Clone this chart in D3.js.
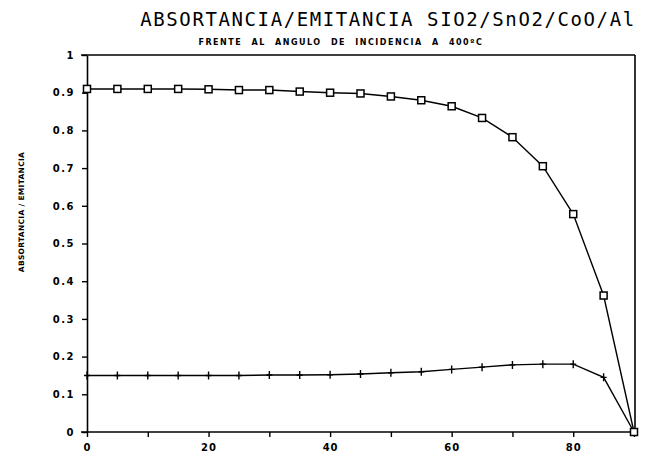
<!DOCTYPE html>
<html>
<head>
<meta charset="utf-8">
<script src="https://cdn.jsdelivr.net/npm/d3@7"></script>
<style>
  body { margin: 0; background: #fff; }
  svg { display: block; }
</style>
</head>
<body>
<div id="chart"></div>
<script>
// angulo de incidencia (grados)
const angles = [0, 5, 10, 15, 20, 25, 30, 35, 40, 45, 50, 55, 60, 65, 70, 75, 80, 85, 90];
// absortancia (cuadrados)
const absortancia = [0.91, 0.91, 0.91, 0.91, 0.909, 0.907, 0.907, 0.903, 0.90, 0.898, 0.89, 0.88, 0.864, 0.833, 0.782, 0.705, 0.578, 0.362, 0.0];
// emitancia (cruces)
const emitancia = [0.15, 0.15, 0.15, 0.15, 0.15, 0.15, 0.151, 0.151, 0.152, 0.154, 0.157, 0.16, 0.166, 0.172, 0.178, 0.18, 0.18, 0.145, 0.0];
const xTicks = [0, 10, 20, 30, 40, 50, 60, 70, 80, 90];
const xLabels = [0, 20, 40, 60, 80];
const yTicks = [0, 0.1, 0.2, 0.3, 0.4, 0.5, 0.6, 0.7, 0.8, 0.9, 1];

const width = 646, height = 454;
const margin = { top: 55, right: 10, bottom: 21, left: 87 };

const svg = d3.select('#chart').append('svg')
    .attr('width', width)
    .attr('height', height);

const x = d3.scaleLinear().domain([0, 90]).range([margin.left, width - margin.right - 2]);
const y = d3.scaleLinear().domain([0, 1]).range([height - margin.bottom - 1, margin.top]);

const tickFont = 'DejaVu Sans, sans-serif';

// marco
svg.append('line')
    .attr('x1', x(0) - 6).attr('x2', x(90) + 1)
    .attr('y1', y(1)).attr('y2', y(1))
    .attr('stroke', '#000').attr('stroke-width', 1.6);
svg.append('line')
    .attr('x1', x(90) + 1).attr('x2', x(90) + 1)
    .attr('y1', y(1)).attr('y2', y(0))
    .attr('stroke', '#000').attr('stroke-width', 1.6);

// eje x
const xAxis = svg.append('g')
    .attr('transform', `translate(0,${y(0)})`)
    .call(d3.axisBottom(x).tickValues(xTicks).tickSize(5).tickSizeOuter(0)
        .tickFormat(d => xLabels.includes(d) ? d : ''));
xAxis.select('.domain').attr('stroke-width', 1.6).attr('d', `M${x(0) - 6},0H${x(90)}`);
xAxis.selectAll('.tick line').attr('stroke-width', 1.4);
xAxis.selectAll('text')
    .attr('dy', '1.05em')
    .style('font-family', tickFont)
    .style('font-weight', 'bold')
    .style('font-size', '10px')
    .style('letter-spacing', '1px');

// eje y
const yAxis = svg.append('g')
    .attr('transform', `translate(${x(0)},0)`)
    .call(d3.axisLeft(y).tickValues(yTicks).tickSize(5).tickSizeOuter(0)
        .tickFormat(d => d === 0 || d === 1 ? d3.format('d')(d) : d3.format('.1f')(d)));
yAxis.select('.domain').attr('stroke-width', 1.6);
yAxis.selectAll('.tick line').attr('stroke-width', 1.4);
yAxis.selectAll('text')
    .attr('x', -12)
    .style('font-family', tickFont)
    .style('font-weight', 'bold')
    .style('font-size', '10px')
    .style('letter-spacing', '1.5px');

// lineas
const line = d3.line().x(d => x(d[0])).y(d => y(d[1]));
const absData = angles.map((a, i) => [a, absortancia[i]]);
const emiData = angles.map((a, i) => [a, emitancia[i]]);

svg.append('path')
    .datum(emiData)
    .attr('fill', 'none')
    .attr('stroke', '#000')
    .attr('stroke-width', 1.4)
    .attr('d', line);

svg.append('path')
    .datum(absData)
    .attr('fill', 'none')
    .attr('stroke', '#000')
    .attr('stroke-width', 1.4)
    .attr('d', line);

// marcadores
svg.append('g')
    .selectAll('path')
    .data(emiData)
    .join('path')
    .attr('d', d => `M${x(d[0]) - 3},${y(d[1])}H${x(d[0]) + 3}M${x(d[0])},${y(d[1]) - 4}V${y(d[1]) + 4}`)
    .attr('stroke', '#000')
    .attr('stroke-width', 1.4);

svg.append('g')
    .selectAll('rect')
    .data(absData)
    .join('rect')
    .attr('x', d => x(d[0]) - 3.5)
    .attr('y', d => y(d[1]) - 3.5)
    .attr('width', 7)
    .attr('height', 7)
    .attr('fill', '#fff')
    .attr('stroke', '#000')
    .attr('stroke-width', 1.5);

// titulos
svg.append('text')
    .attr('x', 388)
    .attr('y', 26)
    .attr('text-anchor', 'middle')
    .style('font-family', 'DejaVu Sans Mono, monospace')
    .style('font-size', '19px')
    .style('letter-spacing', '1.6px')
    .text('ABSORTANCIA/EMITANCIA  SIO2/SnO2/CoO/Al');

svg.append('text')
    .attr('x', 341)
    .attr('y', 45)
    .attr('text-anchor', 'middle')
    .style('font-family', 'DejaVu Sans, sans-serif')
    .style('font-weight', 'bold')
    .style('font-size', '8px')
    .style('letter-spacing', '1.5px')
    .style('word-spacing', '5px')
    .text('FRENTE AL ANGULO DE INCIDENCIA A 400ºC');

svg.append('text')
    .attr('transform', 'translate(24,212) rotate(-90)')
    .attr('text-anchor', 'middle')
    .style('font-family', 'DejaVu Sans, sans-serif')
    .style('font-weight', 'bold')
    .style('font-size', '7.5px')
    .style('letter-spacing', '0.3px')
    .text('ABSORTANCIA / EMITANCIA');
</script>
</body>
</html>
